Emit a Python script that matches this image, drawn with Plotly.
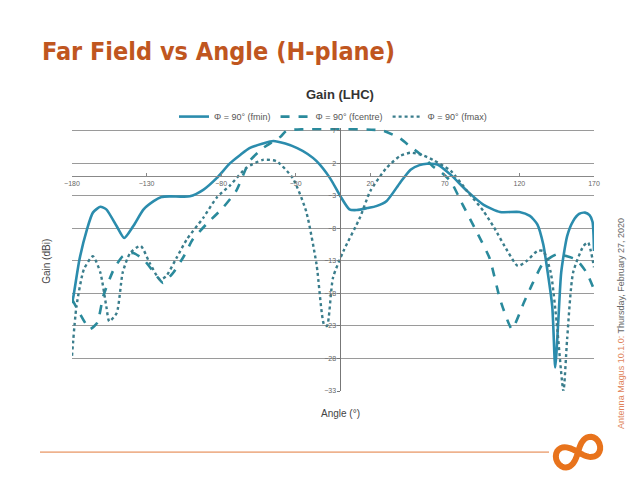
import numpy as np
import plotly.graph_objects as go

# Gain (LHC) vs angle
angle_fmin = [-180, -179, -175, -170, -166, -161, -157, -150, -145, -139, -132, -125, -120, -114,
              -101, -92, -83, -74, -67, -61, -52, -45, -37, -29, -22, -16, -7, 0, 6, 11, 18, 24,
              31, 40, 47, 53, 58, 65, 74, 85, 96, 107, 120, 127, 132, 136, 138, 142, 144, 146,
              148, 152, 156, 160, 164, 167, 169, 170]
gain_fmin = [-19.5, -18.4, -12.8, -8.2, -5.6, -4.7, -5.1, -7.7, -9.5, -7.7, -5.1, -3.8, -3.2, -3.1,
             -3.1, -2.1, -0.3, 2.0, 3.3, 4.3, 5.0, 5.4, 5.0, 4.3, 3.4, 2.3, -0.3, -3.1, -5.1, -5.2,
             -4.9, -4.6, -3.8, -1.0, 1.0, 1.7, 1.9, 1.8, 0.2, -2.3, -4.4, -5.5, -5.5, -6.1, -7.4,
             -10.5, -13.3, -20.0, -29.4, -22.5, -14.8, -9.2, -6.9, -5.8, -5.6, -6.0, -7.0, -11.5]

angle_fcentre = [-180, -175, -168, -163, -159, -152, -146, -139, -132, -123, -119, -112, -105, -99,
                 -90, -79, -70, -61, -52, -40, -36, 28, 40, 47, 54, 62, 68, 74, 82, 91, 100, 107,
                 115, 123, 129, 136, 145, 158, 165, 170]
gain_fcentre = [-18.9, -21.0, -23.5, -22.5, -18.4, -14.3, -12.3, -11.8, -12.8, -15.4, -16.4, -14.8,
                -12.3, -9.7, -7.4, -4.9, -2.3, 2.3, 4.3, 6.1, 7.0, 7.0, 5.8, 4.5, 3.3, 1.5, 0.5,
                -0.8, -4.4, -8.4, -12.6, -18.9, -23.5, -19.4, -16.4, -13.3, -12.0, -12.8, -14.8,
                -17.4]

angle_fmax = [-180, -177, -172, -166, -161, -157, -155, -150, -146, -141, -134, -128, -121, -117,
              -110, -103, -92, -83, -74, -63, -52, -43, -32, -23, -16, -11, -9, -5, 2, 13, 20, 31,
              40, 47, 54, 62, 74, 85, 96, 103, 112, 119, 125, 132, 136, 141, 145, 149.5, 152, 156,
              163, 166, 170]
gain_fmax = [-27.6, -20.0, -14.3, -12.3, -14.8, -20.0, -22.3, -21.0, -14.8, -11.8, -10.7, -13.3,
             -15.9, -15.4, -12.6, -9.7, -6.4, -3.3, -1.4, 1.3, 2.5, 2.3, -0.3, -5.4, -13.6, -22.8,
             -23.0, -15.6, -11.5, -6.4, -2.3, 1.3, 3.1, 3.6, 3.3, 2.5, 0.8, -2.3, -5.4, -7.9,
             -11.5, -13.8, -13.0, -11.5, -11.5, -14.8, -22.5, -33.0, -25.0, -14.8, -10.7, -10.2,
             -14.0]

x_ticks = [-180, -130, -80, -30, 20, 70, 120, 170]
y_ticks = [7, 2, -3, -8, -13, -18, -23, -28, -33]

# plot area in page pixels (the page body adds an 8px offset)
OFF = 8
Y_MIN, Y_MAX = -33, 7.4
L, R, B = 72, 594, 391
T = 131 - (Y_MAX - 7) * 260 / 40


def px(x, y):
    return (x - L) / (R - L), (B - y) / (B - T)


fig = go.Figure()
fig.add_trace(go.Scatter(x=angle_fmin, y=gain_fmin, mode="lines", name="Φ = 90° (fmin)",
                         line=dict(color="#2b8cad", width=2.6, shape="spline", smoothing=0.6)))
fig.add_trace(go.Scatter(x=angle_fcentre, y=gain_fcentre, mode="lines", name="Φ = 90° (fcentre)",
                         line=dict(color="#2a8a9c", width=2.6, dash="dash", shape="spline", smoothing=0.5)))
fig.add_trace(go.Scatter(x=angle_fmax, y=gain_fmax, mode="lines", name="Φ = 90° (fmax)",
                         line=dict(color="#3a7d8c", width=2.4, dash="dot", shape="spline", smoothing=0.6)))

tick_font = dict(family="Liberation Sans, Arial", size=7, color="#666")
fig.update_xaxes(range=[-180, 170], tickvals=x_ticks, showgrid=False, zeroline=False,
                 anchor="free", position=(0 - Y_MIN) / (Y_MAX - Y_MIN), showline=True,
                 linecolor="#888", linewidth=1, ticks="inside", ticklen=3, tickcolor="#888",
                 tickfont=tick_font)
fig.update_yaxes(range=[Y_MIN, Y_MAX], tickvals=y_ticks, showgrid=True, gridcolor="#9a9a9a",
                 gridwidth=1, zeroline=False, anchor="free", position=180 / 350, showline=True,
                 linecolor="#777", linewidth=1, ticks="outside", ticklen=3, tickcolor="#777",
                 tickfont=tick_font)

# footer rule and logo
lx, ly = px(40, 452)
rx, _ = px(549, 452)
fig.add_shape(type="line", xref="paper", yref="paper", x0=lx, y0=ly, x1=rx, y1=ly,
              line=dict(color="#e27a3c", width=1))

t = np.linspace(0, 2 * np.pi, 60)
a = 23
lem_x = a * np.cos(t) / (1 + np.sin(t) ** 2)
lem_y = a * np.sin(t) * np.cos(t) / (1 + np.sin(t) ** 2) * 1.25
rot = np.deg2rad(-22)
gx = 578 + lem_x * np.cos(rot) - lem_y * np.sin(rot)
gy = 452 + lem_x * np.sin(rot) + lem_y * np.cos(rot)
pts = [px(u, v) for u, v in zip(gx, gy)]
logo_path = "M " + " L ".join(f"{p[0]:.4f},{p[1]:.4f}" for p in pts) + " Z"
fig.add_shape(type="path", xref="paper", yref="paper", path=logo_path,
              line=dict(color="#e8731c", width=6))

tx, ty = px(40, 52)
ctx, cty = px(340, 95)
xtx, xty = px(340, 413)
ytx, yty = px(47, 262)
vx, vy = px(621, 324)
fig.add_annotation(x=tx, y=ty, xref="paper", yref="paper", xanchor="left", yanchor="middle",
                   showarrow=False, text="<b>Far Field vs Angle (H-plane)</b>",
                   font=dict(family="DejaVu Sans Condensed, DejaVu Sans", size=25, color="#c0561f"))
fig.add_annotation(x=ctx, y=cty, xref="paper", yref="paper", xanchor="center", yanchor="middle",
                   showarrow=False, text="<b>Gain (LHC)</b>",
                   font=dict(family="Liberation Sans, Arial", size=13, color="#333"))
fig.add_annotation(x=xtx, y=xty, xref="paper", yref="paper", xanchor="center", yanchor="middle",
                   showarrow=False, text="Angle (°)",
                   font=dict(family="Liberation Sans, Arial", size=10, color="#444"))
fig.add_annotation(x=ytx, y=yty, xref="paper", yref="paper", xanchor="center", yanchor="middle",
                   showarrow=False, text="Gain (dBi)", textangle=-90,
                   font=dict(family="Liberation Sans, Arial", size=10, color="#444"))
fig.add_annotation(x=vx, y=vy, xref="paper", yref="paper", xanchor="center", yanchor="middle",
                   showarrow=False, textangle=-90,
                   text="<span style='color:#e0845a'>Antenna Magus 10.1.0:</span> Thursday, February 27, 2020",
                   font=dict(family="Liberation Sans, Arial", size=9, color="#666"))

fig.update_layout(
    width=640, height=480,
    margin=dict(l=L - OFF, r=640 - (R - OFF), t=T - OFF, b=480 - (B - OFF), autoexpand=False),
    paper_bgcolor="white", plot_bgcolor="white",
    showlegend=True,
    legend=dict(orientation="h", x=0.5, xanchor="center", y=px(0, 117)[1], yanchor="middle",
                font=dict(family="Liberation Sans, Arial", size=9, color="#555"),
                itemwidth=30, bgcolor="rgba(0,0,0,0)"),
)

fig.write_html("out.html")
